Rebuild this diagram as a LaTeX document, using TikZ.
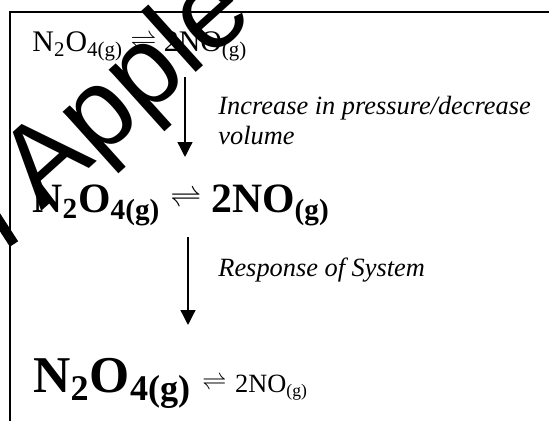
\documentclass[tikz,border=0pt]{standalone}
\usepackage{fontspec}
\setmainfont{Liberation Serif}
\newfontfamily\wmfont{Liberation Sans}
\usetikzlibrary{arrows.meta}

\newcommand{\chsub}[1]{\textsubscript{#1}}
\newcommand{\eqm}[2]{\raisebox{#2}{\fontsize{#1}{#1}\selectfont$\rightleftharpoons$}}

\begin{document}
\begin{tikzpicture}[
    eqn/.style={anchor=base west, inner sep=0pt},
    note/.style={anchor=base west, inner sep=0pt, align=left, font=\itshape\fontsize{12pt}{13.7pt}\selectfont},
    arr/.style={-{Triangle[length=6.8pt, width=6.8pt]}, line width=0.6pt},
    frame/.style={line width=0.8pt},
    wmark/.style={anchor=base west, inner sep=0pt, font=\wmfont\fontsize{51.4pt}{52pt}\selectfont}
]
\useasboundingbox (0,0) rectangle (8.784,6.736);
% frame, cut off at right and bottom
\draw[frame] (0.16,0) -- (0.16,6.544) -- (8.784,6.544);

\node[eqn, font=\fontsize{13.6pt}{16pt}\selectfont] (eqa) at (0.512,5.904)
    {N\chsub{2}O\chsub{4(g)} \eqm{12pt}{1.5pt} 2NO\chsub{(g)}};
\node[eqn, font=\bfseries\fontsize{19pt}{22pt}\selectfont] (eqb) at (0.512,3.336)
    {N\chsub{2}O\chsub{4(g)}\hspace{4.5pt}\eqm{14.6pt}{2.5pt}\hspace{4.5pt}2NO\chsub{(g)}};
\node[eqn] (eqc) at (0.528,0.456)
    {{\bfseries\fontsize{23.5pt}{28pt}\selectfont N\chsub{2}O\chsub{4(g)}}\hspace{5pt}\eqm{11pt}{1.5pt}\hspace{4pt}{\fontsize{12pt}{15pt}\selectfont 2NO\chsub{(g)}}};

\coordinate (pa) at (2.96,5.504);
\coordinate (pb) at (2.96,4.224);
\coordinate (pc) at (3.008,2.944);
\coordinate (pd) at (3.008,1.536);
\draw[arr] (pa) -- (pb);
\draw[arr] (pc) -- (pd);

\node[note] (cond) at (3.488,4.416) {Increase in pressure/decrease\\volume};
\node[note] (resp) at (3.488,2.304) {Response of System};

% watermark on top
\begin{scope}
\clip (0,0) rectangle (8.784,6.736);
\node[wmark, rotate=42] (wm) at (0.656,3.344) {Apple};
\draw[line width=4.5pt] (-0.128,3.376) -- (0.224,2.832);
\end{scope}
\end{tikzpicture}
\end{document}
